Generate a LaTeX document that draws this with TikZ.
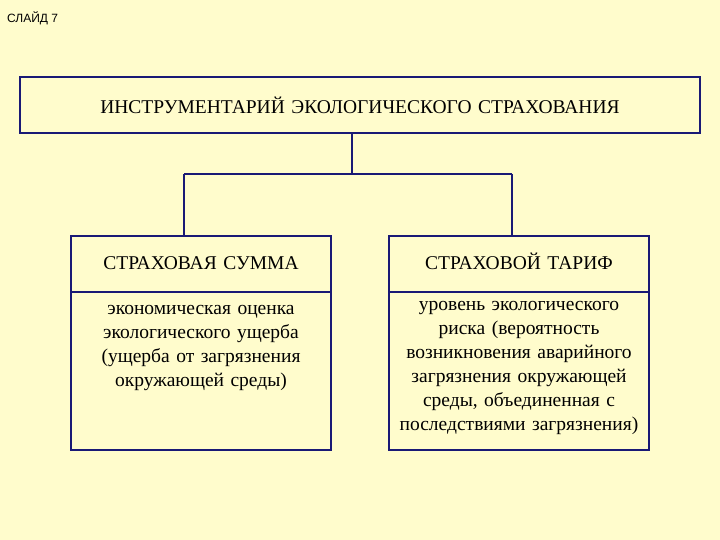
\documentclass[tikz,border=0pt]{standalone}
\usepackage{fontspec}
\setmainfont{Liberation Serif}
\newfontfamily\lsans{Liberation Sans}
\begin{document}
\begin{tikzpicture}[x=1pt,y=-1pt,
  bx/.style={draw=blue!40!black!90, line width=2.6pt, fill=yellow!20},
  ln/.style={draw=blue!40!black!90, line width=2.6pt},
  tx/.style={font=\fontsize{19.5}{24}\selectfont, align=center, text width=258pt, inner sep=0pt}]
\fill[yellow!20] (0,0) rectangle (720,540);
\useasboundingbox (0,0) rectangle (720,540);
\node[font=\lsans\fontsize{12}{13}\selectfont, anchor=west, inner sep=0pt] (sl) at (7,18) {СЛАЙД 7};
\draw[bx] (20,77) rectangle (700,133);
\node[tx, text width=660pt] (top) at (360,105) {ИНСТРУМЕНТАРИЙ ЭКОЛОГИЧЕСКОГО СТРАХОВАНИЯ};
\draw[bx] (71,236) rectangle (331,450);
\draw[ln] (71,292) -- (331,292);
\draw[bx] (389,236) rectangle (649,450);
\draw[ln] (389,292) -- (649,292);
\coordinate (a) at (352,133);
\coordinate (b) at (352,174);
\coordinate (l) at (184,236);
\coordinate (r) at (512,236);
\draw[ln] (a) -- (b) (184,174) -- (512,174) (184,174) -- (l) (512,174) -- (r);
\node[tx] (s1) at (201,263) {СТРАХОВАЯ СУММА};
\node[tx] (s2) at (519,261) {СТРАХОВОЙ ТАРИФ};
\node[tx, anchor=north] (d1) at (201,305) {экономическая оценка\\экологического ущерба\\(ущерба от загрязнения\\окружающей среды)};
\node[tx, anchor=north] (d2) at (519,301) {уровень экологического\\риска (вероятность\\возникновения аварийного\\загрязнения окружающей\\среды, объединенная с\\последствиями загрязнения)};
\end{tikzpicture}
\end{document}
